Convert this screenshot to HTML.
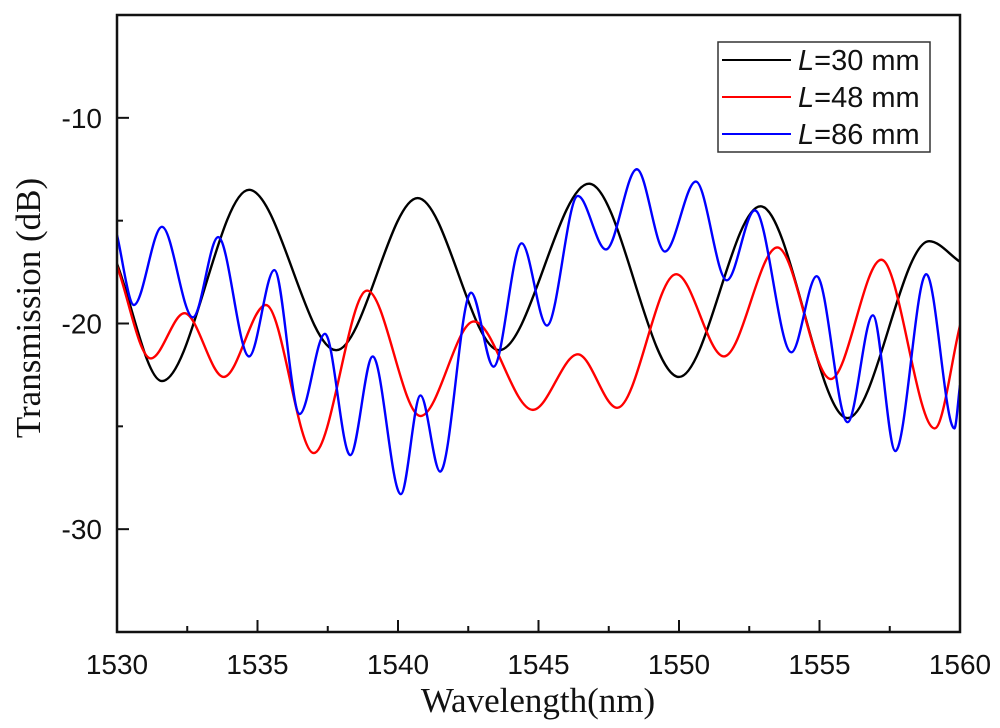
<!DOCTYPE html>
<html><head><meta charset="utf-8"><style>
html,body{margin:0;padding:0;background:#fff;width:1000px;height:728px;overflow:hidden}
svg{display:block}
.tk{font-family:"Liberation Sans",sans-serif;font-size:28px;fill:#111}
.ti{font-family:"Liberation Serif",serif;font-size:35px;fill:#111}
.lg{font-family:"Liberation Sans",sans-serif;font-size:29px;fill:#111}
</style></head><body>
<svg id="chart" width="1000" height="728">
<g id="plot"></g>
<g id="axes"></g>
<g id="legend"></g>
</svg>
<script>
const xTicks=[1530,1535,1540,1545,1550,1555,1560];
const yTicks=[-10,-20,-30];
const x30=[1530,1531.6,1534.7,1537.8,1540.7,1543.6,1546.8,1550.0,1552.9,1556.0,1558.9,1560];
const y30=[-17.1,-22.8,-13.5,-21.3,-13.9,-21.3,-13.2,-22.6,-14.3,-24.6,-16.0,-17.0];
const x48=[1530,1531.2,1532.4,1533.8,1535.3,1537.0,1538.9,1540.8,1542.7,1544.8,1546.4,1547.8,1549.9,1551.6,1553.5,1555.4,1557.2,1559.1,1560];
const y48=[-17.2,-21.7,-19.5,-22.6,-19.1,-26.3,-18.4,-24.5,-19.9,-24.2,-21.5,-24.1,-17.6,-21.6,-16.3,-22.7,-16.9,-25.1,-20.1];
const x86=[1530,1530.6,1531.6,1532.7,1533.6,1534.7,1535.6,1536.5,1537.4,1538.3,1539.1,1540.1,1540.8,1541.5,1542.6,1543.4,1544.4,1545.3,1546.4,1547.4,1548.5,1549.5,1550.6,1551.7,1552.7,1554.0,1554.9,1556.0,1556.9,1557.7,1558.8,1559.8,1560];
const y86=[-15.7,-19.1,-15.3,-19.7,-15.8,-21.6,-17.4,-24.4,-20.5,-26.4,-21.6,-28.3,-23.5,-27.2,-18.5,-22.1,-16.1,-20.1,-13.8,-16.4,-12.5,-16.5,-13.1,-17.9,-14.5,-21.4,-17.7,-24.8,-19.6,-26.2,-17.6,-25.1,-23.0];
const seriesNames=["L=30 mm","L=48 mm","L=86 mm"];

const L=117,R=960,T=15,B=632,X0=1530,X1=1560,Y0=-35,Y1=-5;
const sx=v=>L+(v-X0)/(X1-X0)*(R-L);
const sy=v=>B-(v-Y0)/(Y1-Y0)*(B-T);
const NS="http://www.w3.org/2000/svg";
function mk(t,a,p){const e=document.createElementNS(NS,t);for(const k in a)e.setAttribute(k,a[k]);p.appendChild(e);return e;}

function monoPath(xs,ys){
  const px=xs.map(sx),py=ys.map(sy),n=px.length;
  const d=[],m=new Array(n);
  for(let i=0;i<n-1;i++)d.push((py[i+1]-py[i])/(px[i+1]-px[i]));
  m[0]=d[0];m[n-1]=d[n-2];
  for(let i=1;i<n-1;i++){m[i]=(d[i-1]*d[i]<=0)?0:(d[i-1]+d[i])/2;}
  let s="M"+px[0]+","+py[0];
  for(let i=0;i<n-1;i++){const h=px[i+1]-px[i];
    s+=" C"+(px[i]+h/3)+","+(py[i]+m[i]*h/3)+" "+(px[i+1]-h/3)+","+(py[i+1]-m[i+1]*h/3)+" "+px[i+1]+","+py[i+1];}
  return s;
}
const plot=document.getElementById('plot');
const cp=mk('clipPath',{id:'cl'},plot);mk('rect',{x:L,y:T,width:R-L,height:B-T},cp);
const cols=["#000","#ff0000","#0000ff"];
const data=[[x30,y30],[x48,y48],[x86,y86]];
const names=["line-l30","line-l48","line-l86"];
data.forEach((s,i)=>{const p=mk('path',{d:monoPath(s[0],s[1]),fill:'none',stroke:cols[i],'stroke-width':2.4,'clip-path':'url(#cl)'},plot);

});

const ax=document.getElementById('axes');
const fr=mk('rect',{x:L,y:T,width:R-L,height:B-T,fill:'none',stroke:'#111','stroke-width':2.5},ax);

xTicks.forEach(v=>{const x=sx(v);mk('line',{x1:x,y1:B,x2:x,y2:B-12,stroke:'#111','stroke-width':2},ax);
 const t=mk('text',{x:x,y:B+42,'text-anchor':'middle',class:'tk'},ax);t.textContent=v;
 });
for(let v=X0+2.5;v<X1;v+=5){const x=sx(v);mk('line',{x1:x,y1:B,x2:x,y2:B-6,stroke:'#111','stroke-width':2},ax);}
yTicks.forEach(v=>{const y=sy(v);mk('line',{x1:L,y1:y,x2:L+12,y2:y,stroke:'#111','stroke-width':2},ax);
 const t=mk('text',{x:102,y:y+10,'text-anchor':'end',class:'tk'},ax);t.textContent=v;
 });
[-15,-25].forEach(v=>{const y=sy(v);mk('line',{x1:L,y1:y,x2:L+6,y2:y,stroke:'#111','stroke-width':2},ax);});
const xt=mk('text',{x:538,y:712,'text-anchor':'middle',class:'ti'},ax);xt.textContent='Wavelength(nm)';

const yt=mk('text',{x:0,y:0,'text-anchor':'middle',class:'ti',transform:'translate(40,308) rotate(-90)','font-size':'40px'},ax);yt.textContent='Transmission (dB)';


const lg=document.getElementById('legend');
mk('rect',{x:718,y:42,width:212,height:110,fill:'#fff',stroke:'#333','stroke-width':1.5},lg);
const lys=[60,97,134];
seriesNames.forEach((n,i)=>{const g=mk('g',{},lg);
 
 mk('line',{x1:722,y1:lys[i],x2:791,y2:lys[i],stroke:cols[i],'stroke-width':2},g);
 const t=mk('text',{x:798,y:lys[i]+10,class:'lg'},g);
 const it=mk('tspan',{'font-style':'italic'},t);it.textContent='L';
 const r=mk('tspan',{},t);r.textContent=n.slice(1);});
</script>
</body></html>
